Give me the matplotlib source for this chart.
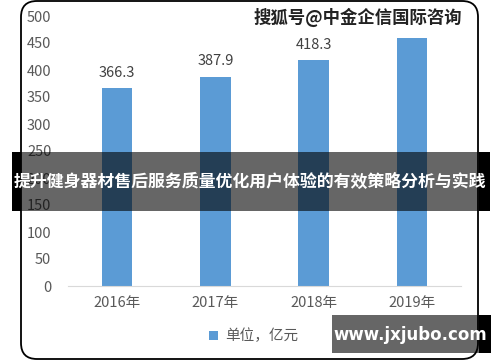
import matplotlib
matplotlib.use("Agg")
import matplotlib.pyplot as plt
from matplotlib.patches import FancyBboxPatch, Rectangle

plt.rcParams['font.family'] = ['Noto Sans CJK SC', 'DejaVu Sans']

# data
years = ['2016年', '2017年', '2018年', '2019年']
values = [366.3, 387.9, 418.3, 459.0]
shown_labels = ['366.3', '387.9', '418.3', '']  # 2019 label hidden under watermark
yticks = [0, 50, 100, 150, 200, 250, 300, 350, 400, 450, 500]
legend_label = '单位，亿元'
title = '提升健身器材售后服务质量优化用户体验的有效策略分析与实践'
watermark = '搜狐号@中金企信国际咨询'
site = 'www.jxjubo.com'

W, H = 500, 362
fig = plt.figure(figsize=(W / 100, H / 100), dpi=100)
fig.patch.set_facecolor('white')

# rounded chart frame (behind the axes)
frame = FancyBboxPatch((21, 3), 457, 358, boxstyle='round,pad=0,rounding_size=16',
                       transform=None, facecolor='white', edgecolor='black',
                       linewidth=1.3, zorder=-5)
fig.add_artist(frame)

ax = fig.add_axes([68 / W, (H - 286) / H, (461 - 68) / W, (286 - 16) / H])
ax.set_facecolor('none')
x = range(len(years))
bars = ax.bar(x, values, width=0.31, color='#5B9BD5', label=legend_label, zorder=2)
ax.set_xlim(-0.5, 3.5)
ax.set_ylim(0, 500)
ax.set_yticks(yticks)
ax.set_xticks(list(x))
ax.set_xticklabels(years)
for s in ['top', 'right', 'left']:
    ax.spines[s].set_visible(False)
ax.spines['bottom'].set_color('#D9D9D9')
ax.tick_params(axis='both', length=0, colors='#595959', labelsize=10.5)
ax.tick_params(axis='y', pad=12)
ax.tick_params(axis='x', pad=7)

for rect, lab in zip(bars, shown_labels):
    if lab:
        ax.annotate(lab, (rect.get_x() + rect.get_width() / 2, rect.get_height()),
                    xytext=(0, 6), textcoords='offset points', ha='center', va='bottom',
                    fontsize=10.5, color='#404040')

fig.legend(loc='center', bbox_to_anchor=(254 / W, (H - 336) / H), frameon=False,
           fontsize=10.5, handlelength=0.6, handleheight=0.6, handletextpad=0.5,
           labelcolor='#595959')

# watermark at top right
fig.text(358 / W, (H - 17) / H, watermark, ha='center', va='center', fontsize=12.5,
         fontweight='bold', color='#222222', zorder=5,
         bbox=dict(facecolor='white', edgecolor='none', pad=2))

# dark banner with title
fig.add_artist(Rectangle((12, H - 211), 478, 59, transform=None,
                         facecolor='black', alpha=0.6, edgecolor='none', zorder=4))
fig.add_artist(Rectangle((12, H - 211), 9, 59, transform=None,
                         facecolor='black', edgecolor='none', zorder=4))
fig.add_artist(Rectangle((479, H - 211), 11, 59, transform=None,
                         facecolor='black', edgecolor='none', zorder=4))
fig.text(250 / W, (H - 182) / H, title, ha='center', va='center', fontsize=12.2,
         fontweight='bold', color='white', zorder=6)

# site box bottom right
fig.add_artist(Rectangle((332, H - 353), 147, 38, transform=None,
                         facecolor='black', alpha=0.6, edgecolor='none', zorder=4))
fig.add_artist(Rectangle((479, H - 353), 12, 38, transform=None,
                         facecolor='black', edgecolor='none', zorder=4))
fig.text(410 / W, (H - 335) / H, site, ha='center', va='center', fontsize=12,
         fontweight='bold', color='white', family=['DejaVu Sans'], zorder=6)

fig.savefig('out.png', dpi=100)
